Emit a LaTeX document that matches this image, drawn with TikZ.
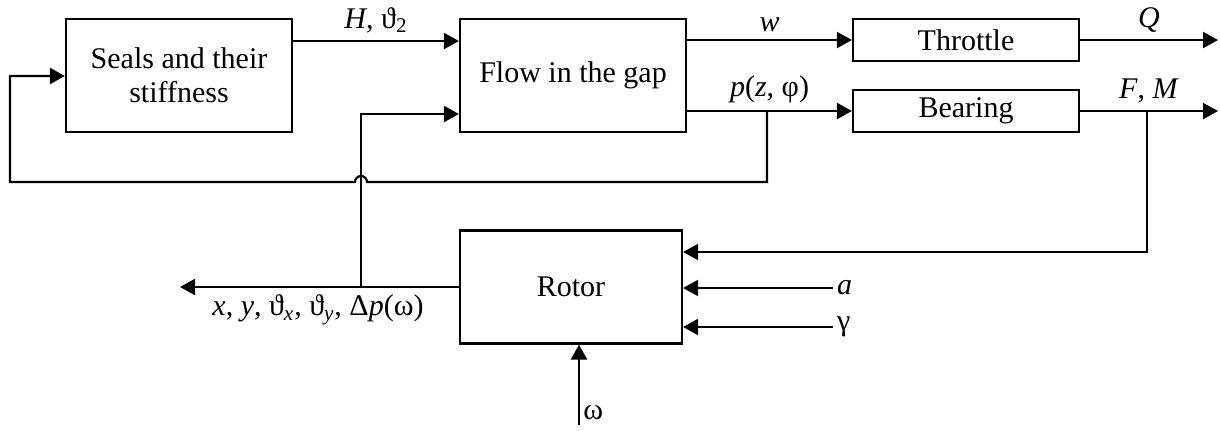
\documentclass[tikz,border=0pt]{standalone}
\usepackage{fontspec}
\setmainfont{Liberation Serif}
\usetikzlibrary{arrows.meta}

\begin{document}
\begin{tikzpicture}[
x=0.5pt,y=-0.5pt,
every node/.style={font=\fontsize{15}{17}\selectfont},
block/.style={draw,line width=1.1pt,minimum width=113pt,minimum height=56.5pt,align=center,inner sep=0pt},
thinblock/.style={block,minimum height=21pt},
sig/.style={line width=1.1pt,-{Triangle[length=7.5pt,width=8pt]}},
lbl/.style={inner sep=1.5pt}
]
\useasboundingbox (0,0) rectangle (1220,430);
% blocks
\node[block] (seals) at (179,75.5) {Seals and their\\stiffness};
\node[block] (flow) at (573,75.5) {Flow in the gap};
\node[thinblock] (throttle) at (966,40) {Throttle};
\node[thinblock] (bearing) at (966,111) {Bearing};
\node[block,minimum width=111pt] (rotor) at (571,287) {Rotor};
% junctions
\coordinate (ptap) at (767,111);
\coordinate (fmtap) at (1147,111);
\coordinate (xtap) at (361,287);
% upper signals
\draw[sig] (seals.east |- 0,41) -- (flow.west |- 0,41)
node[midway,above,lbl,yshift=2pt] {\textit{H}, ϑ\textsubscript{2}};
\draw[sig] (flow.east |- throttle.west) -- (throttle.west)
node[midway,above,lbl,yshift=2pt] {\textit{w}};
\draw[sig] (flow.east |- bearing.west) -- (bearing.west)
node[pos=0.5,above,lbl,yshift=2pt] {\textit{p}(\textit{z}, φ)};
\draw[sig] (throttle.east) -- (1218,40)
node[midway,above,lbl,yshift=2pt] {\textit{Q}};
\draw[sig] (bearing.east) -- (1218,111)
node[pos=0.5,above,lbl,yshift=2pt] {\textit{F}, \textit{M}};
% feedback to seals
\draw[sig] (ptap) -- (767,182) -- (367,182) arc (0:-180:6) -- (10,182) -- (10,76) -- (seals.west |- 0,76);
% rotor
\draw[sig] (fmtap) -- (1147,252) -- (rotor.east |- 0,252);
\draw[sig] (833,288) node[right,lbl] {\textit{a}} -- (rotor.east |- 0,288);
\draw[sig] (833,327) node[right,lbl] {γ} -- (rotor.east |- 0,327);
\draw[sig] (579,425) -- (rotor.south -| 579,0);
\node[lbl,anchor=west] (omega) at (580,413) {ω};
\draw[sig] (rotor.west) -- (180,287);
\node[lbl] (xout) at (318,310) {\textit{x}, \textit{y}, ϑ\textsubscript{\textit{x}}, ϑ\textsubscript{\textit{y}}, Δ\textit{p}(ω)};
\draw[sig] (xtap) -- (361,114) -- (flow.west |- 0,114);
\end{tikzpicture}
\end{document}
